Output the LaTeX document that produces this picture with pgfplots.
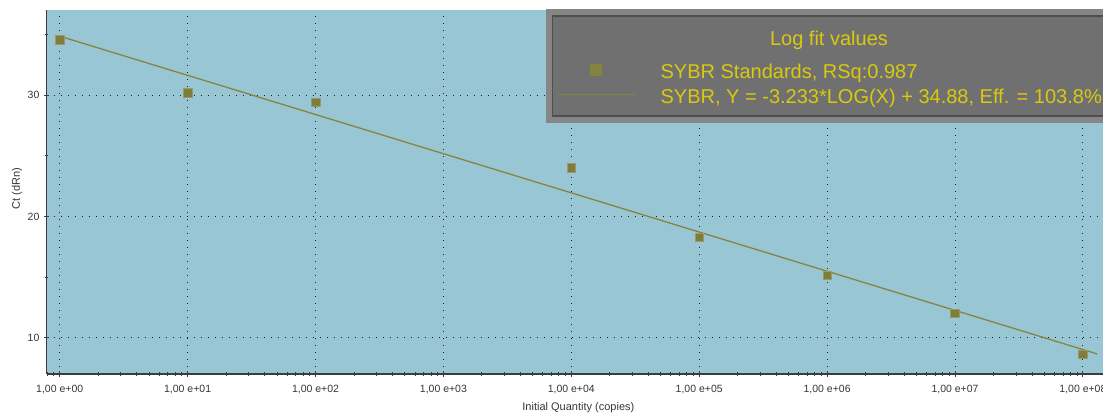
\documentclass[border=0pt]{standalone}
\usepackage{fontspec}
\setmainfont{Liberation Sans}
\usepackage{pgfplots}
\pgfplotsset{compat=1.18}

\definecolor{plotbg}{HTML}{99C6D5}
\definecolor{gridcol}{HTML}{1E1E1E}
\definecolor{axiscol}{HTML}{3C3C3C}
\definecolor{ticklab}{HTML}{363636}
\definecolor{markfill}{HTML}{7F7D3E}
\definecolor{markedge}{HTML}{9A9A66}
\definecolor{legmark}{HTML}{85843F}
\definecolor{fitline}{HTML}{86853F}
\definecolor{legout}{HTML}{868686}
\definecolor{legframe}{HTML}{4E4E4E}
\definecolor{legfill}{HTML}{707070}
\definecolor{legtext}{HTML}{D9C90F}

\begin{document}
\begin{tikzpicture}[x=1pt,y=1pt]
\begin{axis}[
  scale only axis,
  width=1063.3pt, height=364pt,
  xmode=log, log basis x=10,
  xmin=0.7913, xmax=1.629e8,
  ymin=7, ymax=37.04,
  axis lines*=left,
  axis line style={draw=axiscol, line width=1.6pt, -},
  axis background/.style={fill=plotbg},
  xtick={1,10,100,1000,10000,100000,1000000,10000000,100000000},
  xticklabels={{1,00 e+00},{1,00 e+01},{1,00 e+02},{1,00 e+03},{1,00 e+04},{1,00 e+05},{1,00 e+06},{1,00 e+07},{1,00 e+08}},
  minor xtick={0.8,0.9,
    2,3,4,5,6,7,8,9,
    20,30,40,50,60,70,80,90,
    200,300,400,500,600,700,800,900,
    2e3,3e3,4e3,5e3,6e3,7e3,8e3,9e3,
    2e4,3e4,4e4,5e4,6e4,7e4,8e4,9e4,
    2e5,3e5,4e5,5e5,6e5,7e5,8e5,9e5,
    2e6,3e6,4e6,5e6,6e6,7e6,8e6,9e6,
    2e7,3e7,4e7,5e7,6e7,7e7,8e7,9e7},
  ytick={10,20,30}, yticklabels={10,20,30},
  minor ytick={15,25,35},
  grid=major,
  major grid style={draw=gridcol, line width=1pt, dash pattern=on 1pt off 6pt},
  tick align=center,
  major tick length=5.5pt, minor tick length=3.5pt,
  every tick/.style={draw=axiscol, line width=1pt},
  xticklabel style={font=\fontsize{10.5}{12}\selectfont, text=ticklab, yshift=-5pt},
  yticklabel style={font=\fontsize{10.5}{12}\selectfont, text=ticklab, xshift=-1pt},
  xlabel={Initial Quantity (copies)},
  ylabel={Ct (dRn)},
  label style={font=\fontsize{11}{13}\selectfont, text=ticklab},
  xlabel style={at={(axis description cs:0.5,-0.0934)}, anchor=center},
  ylabel style={at={(axis description cs:-0.0280,0.51)}, anchor=center},
  legend image code/.code={
    \path[draw=none, fill=none] (0pt,9pt) -- (103pt,9pt);
    \draw[mark repeat=2, mark phase=2, #1]
      plot coordinates {(0pt,9pt) (38.5pt,9pt) (77pt,9pt)};
  },
  legend style={
    at={(0.4799,0.8536)}, anchor=north west,
    draw=none, fill=none, inner sep=0pt, outer sep=0pt,
    column sep=0pt, row sep=0pt,
    font=\fontsize{20}{24}\selectfont, text=legtext,
    cells={anchor=base west},
    nodes={inner sep=0pt, text height=15pt, text depth=10.4pt},
  },
]

% standards: Ct against initial quantity
\addplot[only marks, mark=square*, mark size=4.3pt,
  mark options={fill=markfill, draw=markedge, line width=0.6pt},
  legend image post style={mark size=5.5pt, mark options={fill=legmark, draw=legmark}}]
  coordinates {
    (1,34.58) (10,30.19) (100,29.42) (10000,24.02)
    (100000,18.27) (1000000,15.13) (10000000,12.02) (100000000,8.64)
  };
\addlegendentry{SYBR Standards, RSq:0.987}

% log fit: Y = -3.233*log10(X) + 34.88
\addplot[fitline, line width=1.3pt]
  coordinates {(1,34.88) (1.29e8,8.66)};
\addlegendentry{SYBR, Y = -3.233*LOG(X) + 34.88, Eff. = 103.8\%}

% legend panel
\fill[legout] (rel axis cs:0.4696,0.6896) rectangle (rel axis cs:1.02,1.01);
\draw[legframe, line width=1.6pt, fill=legfill]
  (rel axis cs:0.4755,0.7080) rectangle (rel axis cs:1.05,0.9841);
\node[text=legtext, font=\fontsize{20}{24}\selectfont, anchor=base]
  at (rel axis cs:0.7357,0.9025) {Log fit values};
\end{axis}
\pgfresetboundingbox
\path[use as bounding box] (-46.7,-40) rectangle (1056.3,374);
\end{tikzpicture}
\end{document}
